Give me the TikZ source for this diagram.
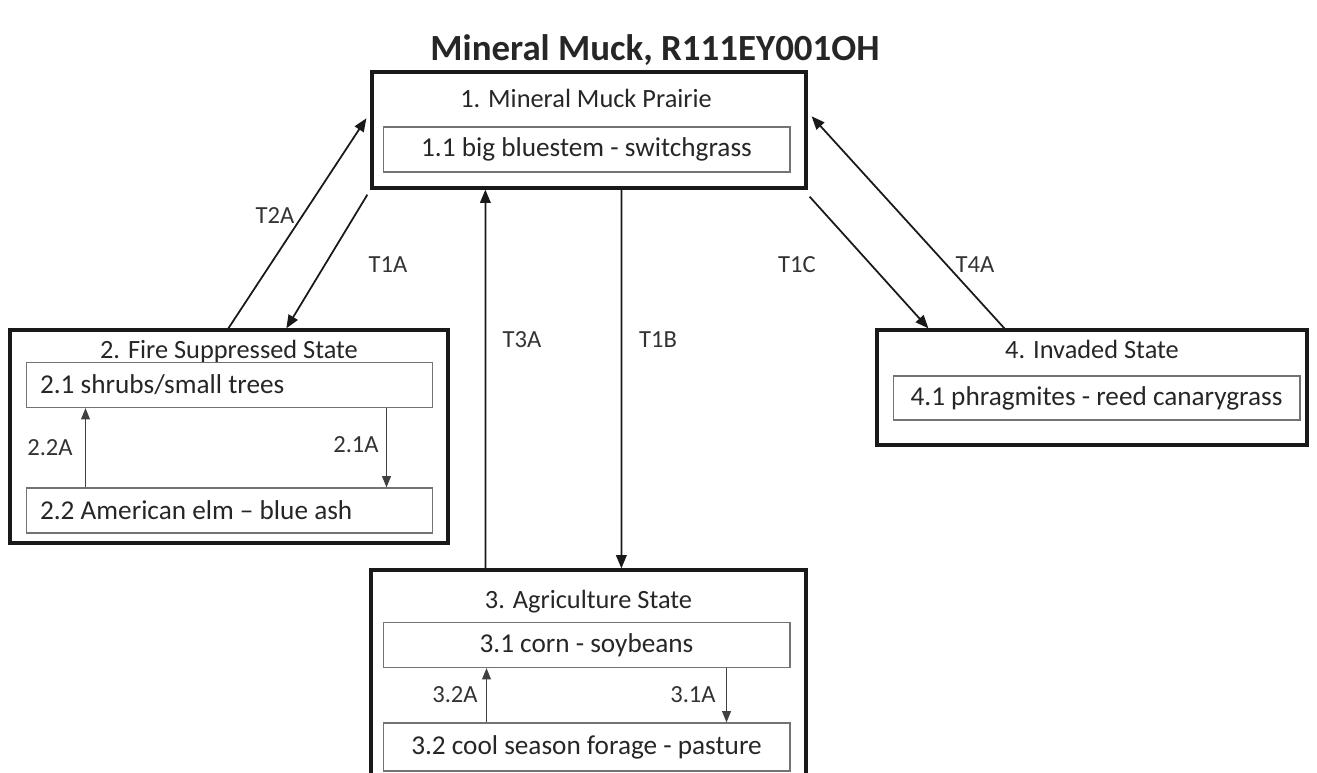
\documentclass[tikz,border=0pt]{standalone}
\usepackage{fontspec}
\setmainfont{Carlito}
\usetikzlibrary{arrows.meta,calc}
\begin{document}
\begin{tikzpicture}[x=0.02cm, y=-0.02cm,
  outer/.style={draw=black!90, line width=1.9pt, inner sep=0pt},
  inner/.style={draw=black!55, line width=0.6pt, inner sep=0pt, minimum width=8.14cm, minimum height=0.9cm, text=black!85, font=\fontsize{15.5}{17}\selectfont},
  leftin/.style={inner, align=flush left, text width=7.58cm, inner xsep=0.28cm},
  heading/.style={text=black!85, font=\fontsize{15}{17}\selectfont},
  lab/.style={text=black!80, font=\fontsize{14}{16}\selectfont},
  trans/.style={-{Triangle[length=7.5pt,width=6pt]}, line width=1pt, draw=black!90},
  sub/.style={-{Triangle[length=6.5pt,width=5pt]}, line width=0.9pt, draw=black!75}]
\clip (0,0) rectangle (1317,773);
\node[font=\bfseries\fontsize{21}{24}\selectfont, text=black!85] (title) at (655,50) {Mineral Muck, R111EY001OH};
\node[outer, minimum width=8.68cm, minimum height=2.32cm] (s1) at (589,130) {};
\node[heading] (h1) at (586,98) {1. Mineral Muck Prairie};
\node[inner] (s11) at (586.5,149.5) {1.1 big bluestem - switchgrass};
\node[outer, minimum width=8.76cm, minimum height=4.26cm] (s2) at (229,436.5) {};
\node[heading] (h2) at (229,351) {2. Fire Suppressed State};
\node[leftin] (s21) at (229.5,385) {2.1 shrubs/small trees};
\node[leftin] (s22) at (229.5,510.5) {2.2 American elm -- blue ash};
\node[outer, minimum width=8.7cm, minimum height=4.4cm] (s3) at (588.5,680) {};
\node[heading] (h3) at (588.5,602) {3. Agriculture State};
\node[inner] (s31) at (586.5,645) {3.1 corn - soybeans};
\node[inner, minimum height=0.96cm] (s32) at (586.5,747) {3.2 cool season forage - pasture};
\node[outer, minimum width=8.6cm, minimum height=2.3cm] (s4) at (1092,387.5) {};
\node[heading] (h4) at (1092,349) {4. Invaded State};
\node[inner, minimum height=0.88cm] (s41) at (1096.5,398) {4.1 phragmites - reed canarygrass};
\draw[trans] ($(s2.north west)+(220,0)$) -- ($(s1.north west)+(-4,48)$);
\draw[trans] ($(s1.south west)+(-3,5)$) -- ($(s2.north west)+(278,0)$);
\draw[trans] ($(s3.north west)+(116,0)$) -- ($(s1.south west)+(115,0)$);
\draw[trans] ($(s1.south west)+(251,0)$) -- ($(s3.north west)+(252,0)$);
\draw[trans] ($(s1.south east)+(2,7)$) -- ($(s4.north west)+(53,0)$);
\draw[trans] ($(s4.north west)+(129,0)$) -- ($(s1.north east)+(4,46)$);
\draw[sub] ($(s22.north west)+(60,0)$) -- ($(s21.south west)+(60,0)$);
\draw[sub] ($(s21.south west)+(361,0)$) -- ($(s22.north west)+(361,0)$);
\draw[sub] ($(s32.north west)+(104,0)$) -- ($(s31.south west)+(104,0)$);
\draw[sub] ($(s31.south west)+(344,0)$) -- ($(s32.north west)+(344,0)$);
\node[lab] (t2a) at (275,216) {T2A};
\node[lab] (t1a) at (388,265) {T1A};
\node[lab] (t3a) at (522,340) {T3A};
\node[lab] (t1b) at (658,340) {T1B};
\node[lab] (t1c) at (797,265) {T1C};
\node[lab] (t4a) at (975,265) {T4A};
\node[lab] (l22a) at (50,448) {2.2A};
\node[lab] (l21a) at (356,445) {2.1A};
\node[lab] (l32a) at (455,695) {3.2A};
\node[lab] (l31a) at (693,695) {3.1A};
\end{tikzpicture}
\end{document}
